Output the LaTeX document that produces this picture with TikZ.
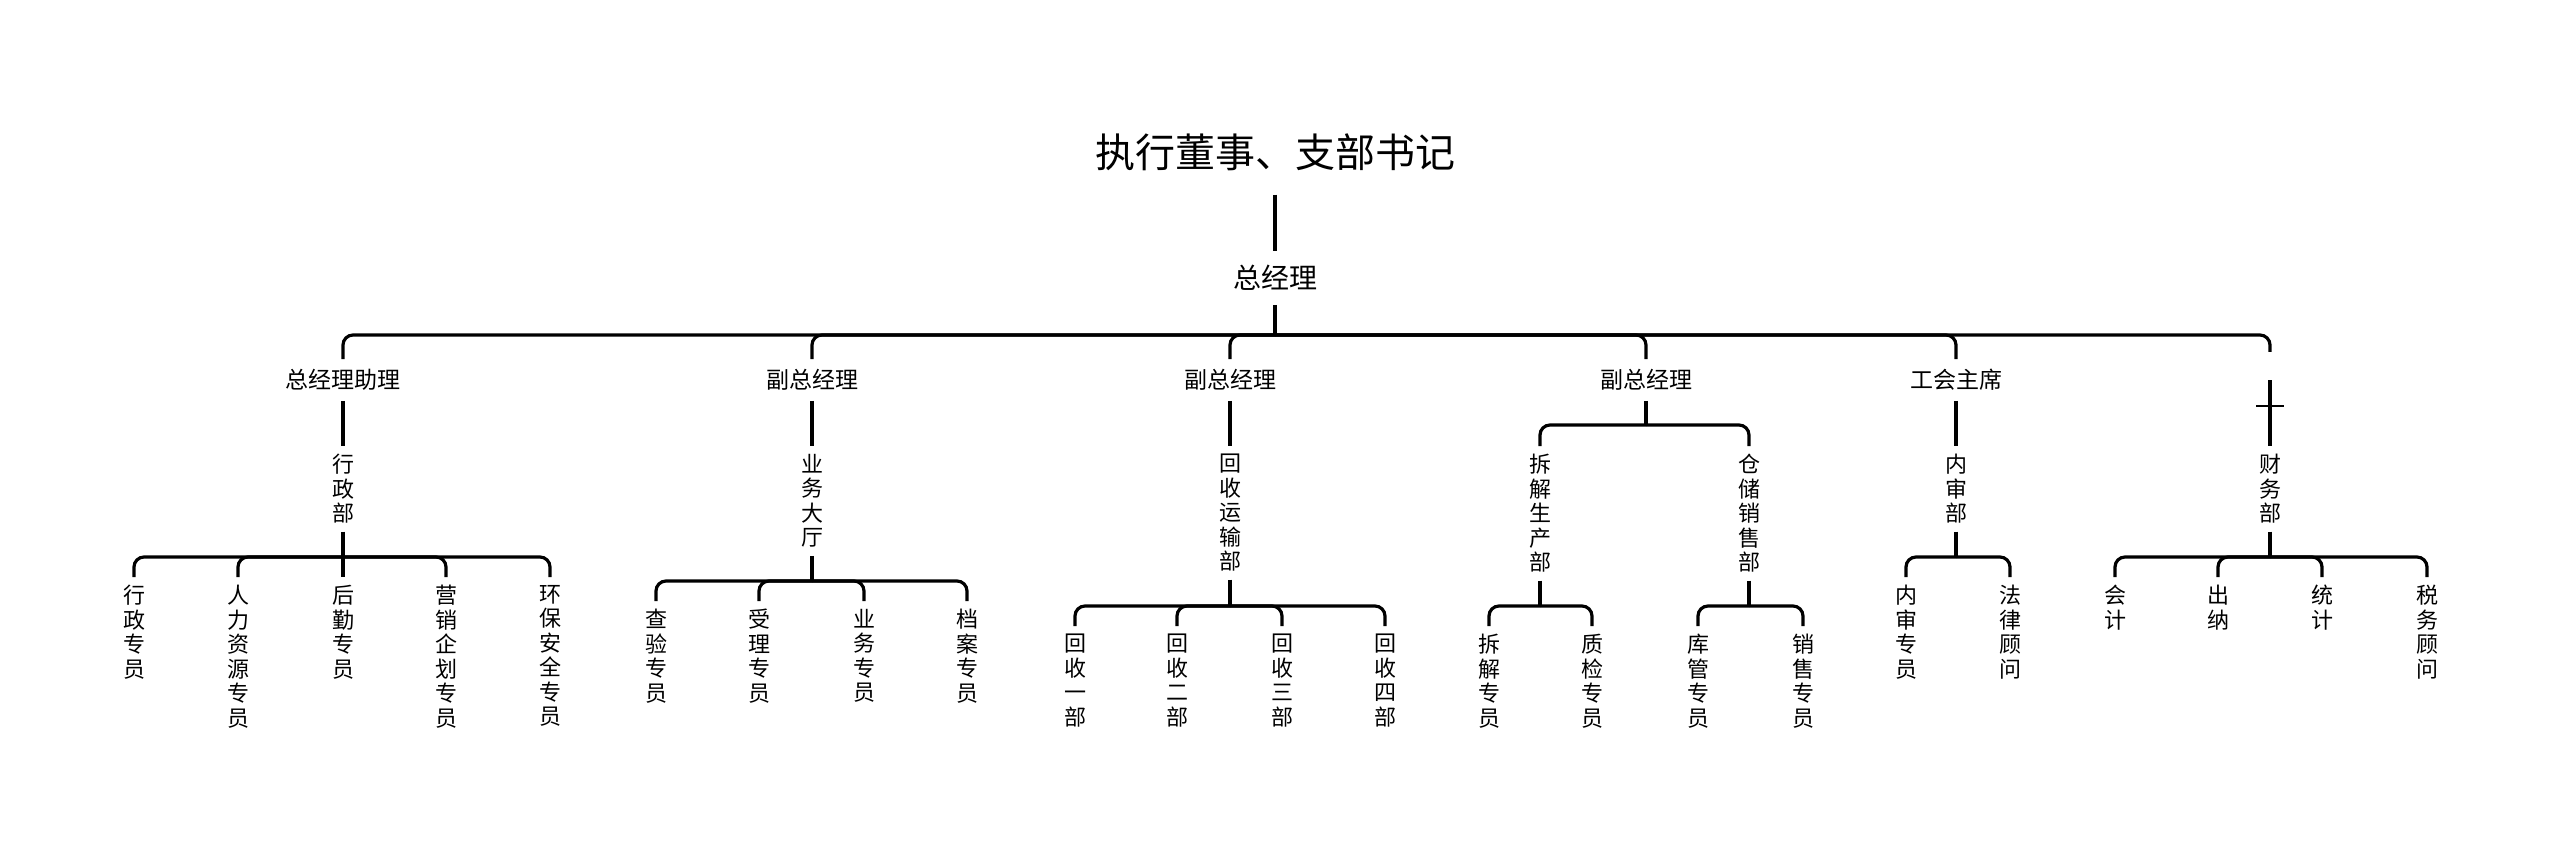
\documentclass[tikz,border=0pt]{standalone}
\usepackage{fontspec}
\setmainfont{Noto Sans CJK SC}
\tikzset{
	conn/.style={line width=3.2pt, rounded corners=10pt},
	lbl/.style={inner sep=10pt, font=\fontsize{23}{26}\selectfont},
	vlbl/.style={anchor=north, inner sep=8pt, align=center, font=\fontsize{22}{24.5}\selectfont},
}
\begin{document}
\begin{tikzpicture}[x=1pt,y=1pt,yscale=-1,xscale=1]
	\useasboundingbox (0,0) rectangle (2560,847);

	% Text Node
	\node (title) at (1275,152) [inner sep=24pt, font=\fontsize{40}{44}\selectfont] {执行董事、支部书记};
	\node (gm) at (1275,278) [inner sep=14pt, font=\fontsize{28}{30}\selectfont] {总经理};
	\coordinate (top) at (1275,335);
	% Text Node
	\node (l1) at (343,380) [lbl] {总经理助理};
	\node (l2) at (812,380) [lbl] {副总经理};
	\node (l3) at (1230,380) [lbl] {副总经理};
	\node (l4) at (1646,380) [lbl] {副总经理};
	\node (l5) at (1956,380) [lbl] {工会主席};
	\node (l6) at (2270,366) [inner sep=0pt, minimum height=28pt] {};
	% Text Node
	\node (d1) at (343,446) [vlbl] {行\\政\\部};
	\node (d2) at (812,446) [vlbl] {业\\务\\大\\厅};
	\node (d3) at (1230,446) [vlbl] {回\\收\\运\\输\\部};
	\node (d4a) at (1540,446) [vlbl] {拆\\解\\生\\产\\部};
	\node (d4b) at (1749,446) [vlbl] {仓\\储\\销\\售\\部};
	\node (d5) at (1956,446) [vlbl] {内\\审\\部};
	\node (d6) at (2270,446) [vlbl] {财\\务\\部};
	% Text Node
	\node (a1) at (134,577) [vlbl] {行\\政\\专\\员};
	\node (a2) at (238,577) [vlbl] {人\\力\\资\\源\\专\\员};
	\node (a3) at (343,577) [vlbl] {后\\勤\\专\\员};
	\node (a4) at (446,577) [vlbl] {营\\销\\企\\划\\专\\员};
	\node (a5) at (550,577) [vlbl] {环\\保\\安\\全\\专\\员};
	\node (b1) at (656,601) [vlbl] {查\\验\\专\\员};
	\node (b2) at (759,601) [vlbl] {受\\理\\专\\员};
	\node (b3) at (864,601) [vlbl] {业\\务\\专\\员};
	\node (b4) at (967,601) [vlbl] {档\\案\\专\\员};
	\node (c1) at (1075,626) [vlbl] {回\\收\\一\\部};
	\node (c2) at (1177,626) [vlbl] {回\\收\\二\\部};
	\node (c3) at (1282,626) [vlbl] {回\\收\\三\\部};
	\node (c4) at (1385,626) [vlbl] {回\\收\\四\\部};
	\node (e1) at (1489,626) [vlbl] {拆\\解\\专\\员};
	\node (e2) at (1592,626) [vlbl] {质\\检\\专\\员};
	\node (e3) at (1698,626) [vlbl] {库\\管\\专\\员};
	\node (e4) at (1803,626) [vlbl] {销\\售\\专\\员};
	\node (f1) at (1906,577) [vlbl] {内\\审\\专\\员};
	\node (f2) at (2010,577) [vlbl] {法\\律\\顾\\问};
	\node (g1) at (2115,577) [vlbl] {会\\计};
	\node (g2) at (2218,577) [vlbl] {出\\纳};
	\node (g3) at (2322,577) [vlbl] {统\\计};
	\node (g4) at (2427,577) [vlbl] {税\\务\\顾\\问};

	% Connection
	\draw [conn] (title.south) -- (gm.north);
	\draw [conn] (gm.south) -- (top);
	\foreach \n in {l1,l2,l3,l4,l5,l6}
		\draw [conn] (top) -| (\n.north);
	\foreach \p/\d in {l1/d1,l2/d2,l3/d3,l5/d5,l6/d6}
		\draw [conn] (\p.south) -- (\d.north);
	\draw [line width=1.2pt] (2256,406) -- (2284,406);
	% Connection
	\coordinate (k4) at (1646,425);
	\draw [conn] (l4.south) -- (k4);
	\draw [conn] (k4) -| (d4a.north);
	\draw [conn] (k4) -| (d4b.north);
	% Connection
	\foreach \d/\y/\kids in {d1/557/{a1,a2,a3,a4,a5}, d2/581/{b1,b2,b3,b4}, d3/606/{c1,c2,c3,c4}, d4a/606/{e1,e2}, d4b/606/{e3,e4}, d5/557/{f1,f2}, d6/557/{g1,g2,g3,g4}} {
		\coordinate (bus) at (\d.south |- 0,\y);
		\draw [conn] (\d.south) -- (bus);
		\foreach \k in \kids
			\draw [conn] (bus) -| (\k.north);
	}

\end{tikzpicture}
\end{document}
